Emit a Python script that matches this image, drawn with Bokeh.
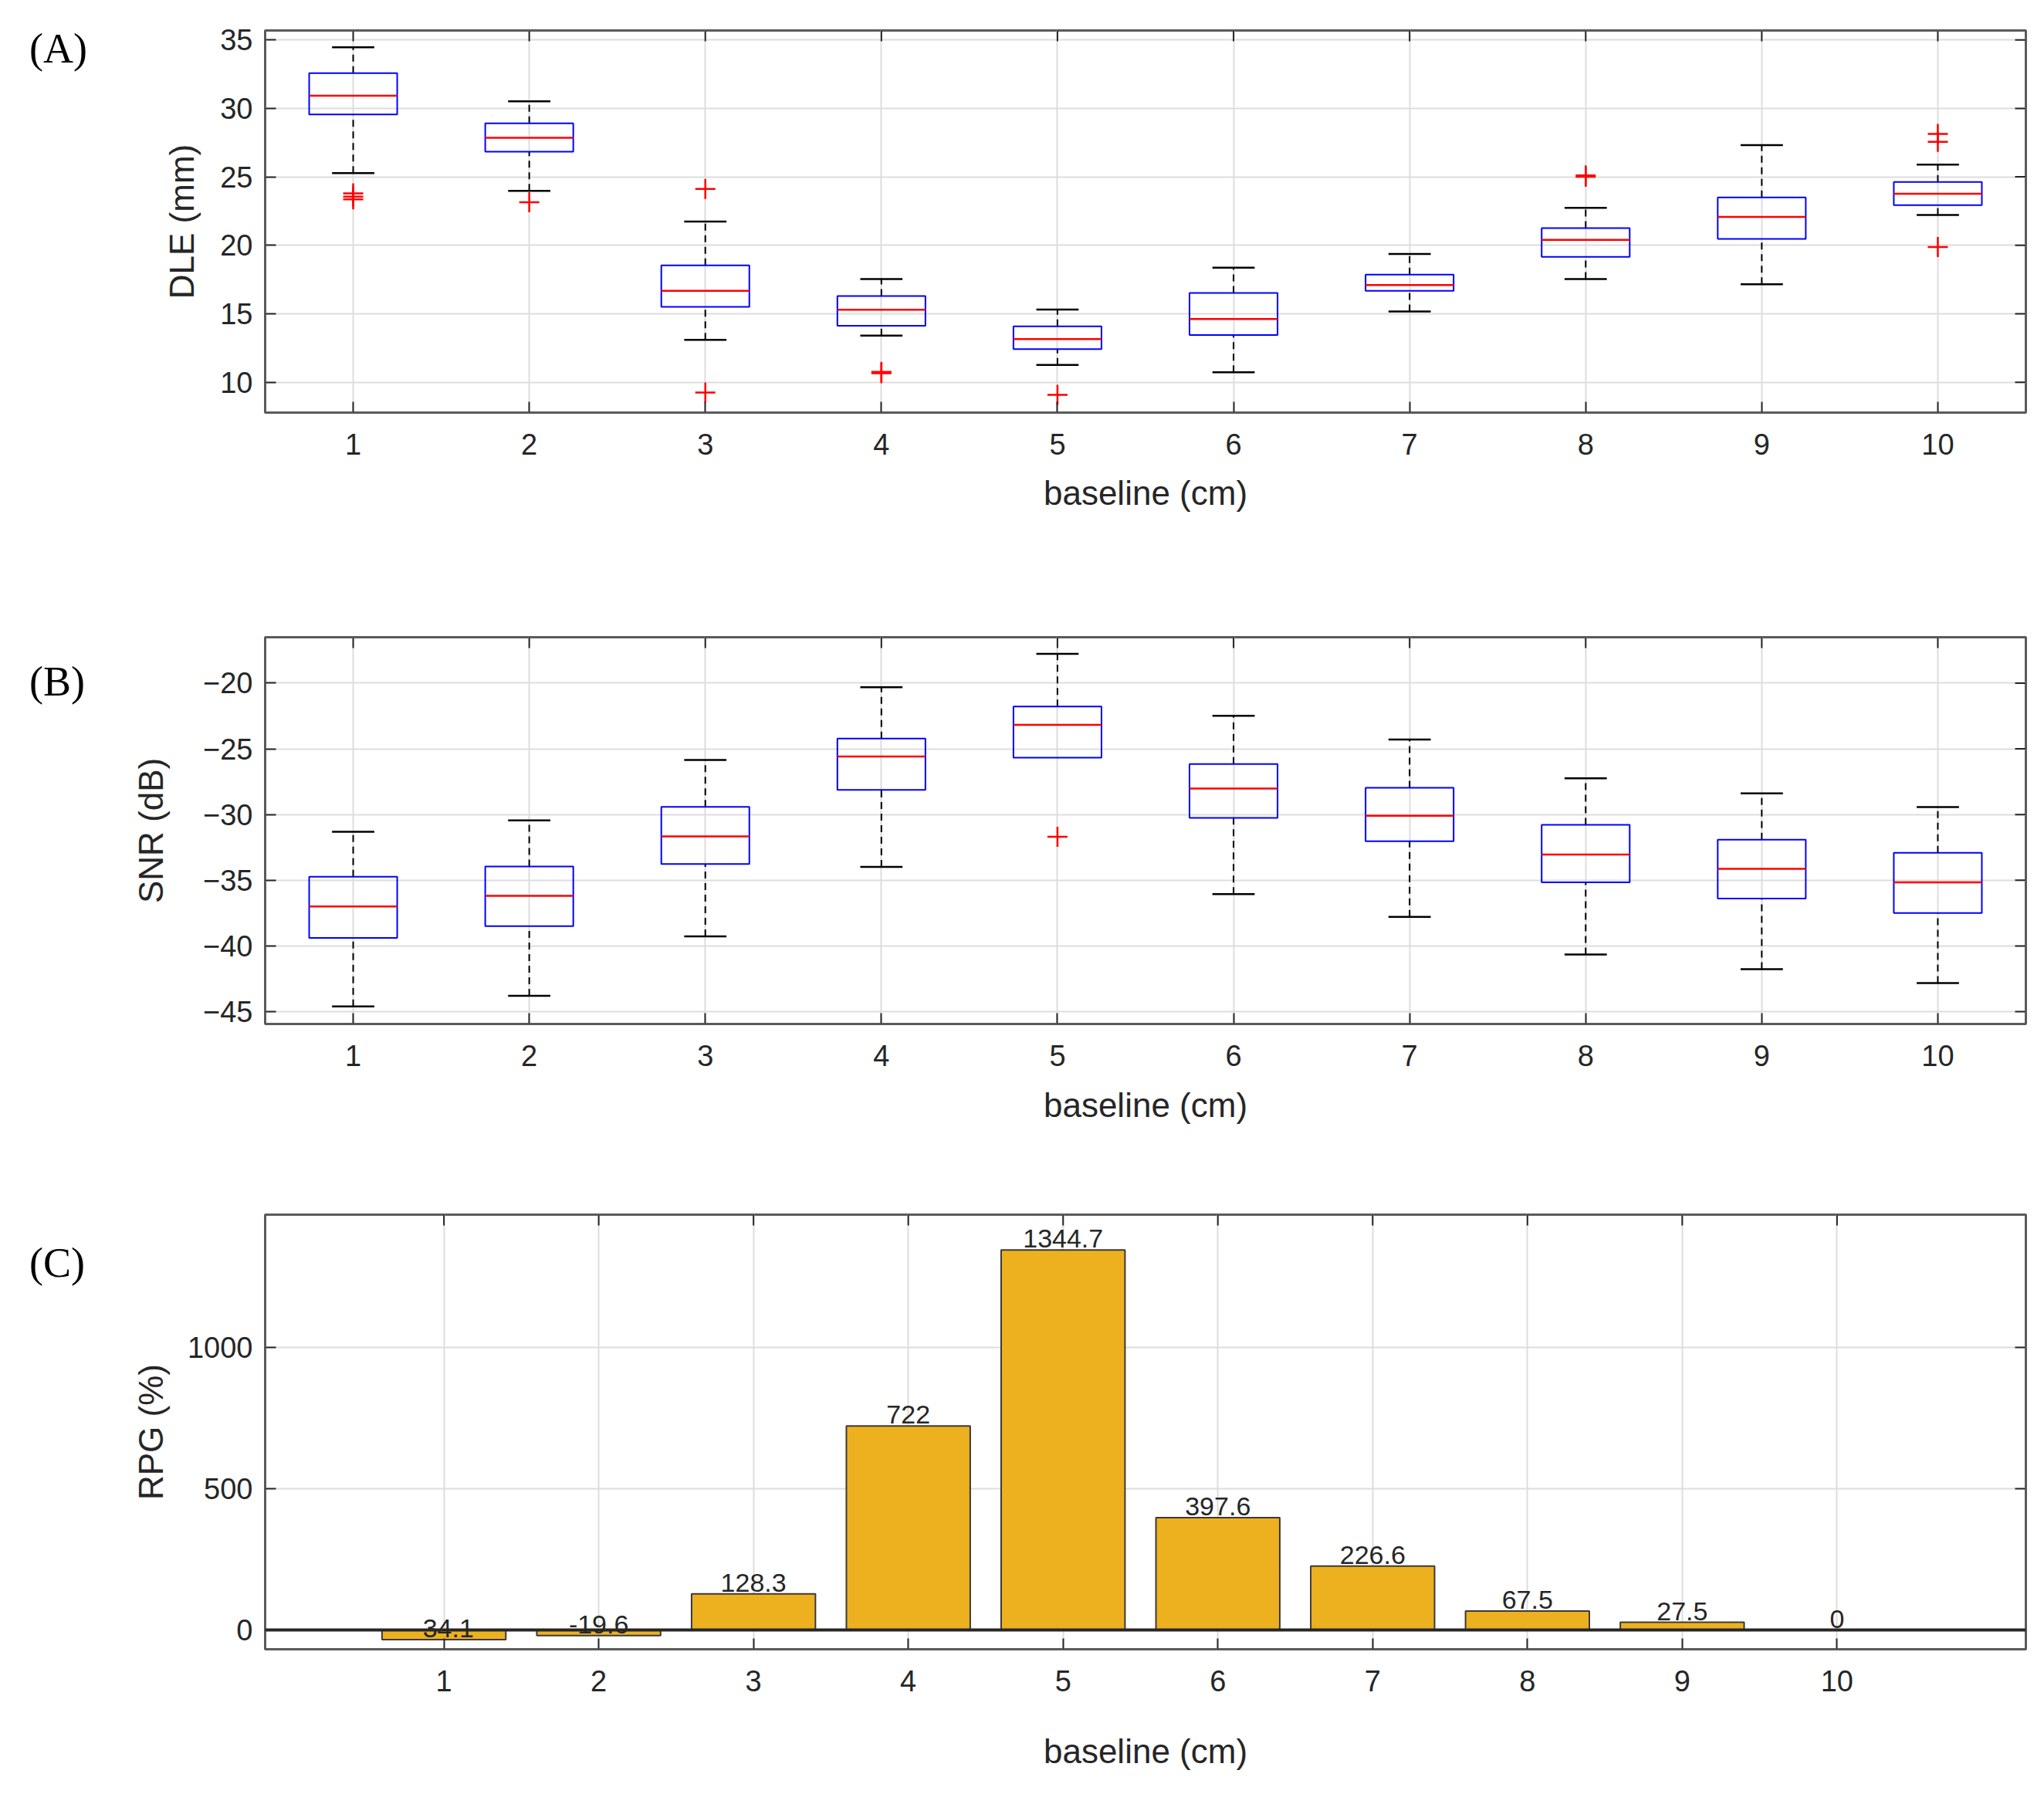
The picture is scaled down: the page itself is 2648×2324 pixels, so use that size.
from bokeh.plotting import figure
from bokeh.layouts import column, row
from bokeh.models import Range1d, FixedTicker, ColumnDataSource, Div
from bokeh.embed import file_html
from bokeh.resources import INLINE
from bokeh.core.properties import value

# ---------------- data ----------------
baseline = [1, 2, 3, 4, 5, 6, 7, 8, 9, 10]

# (A) DLE (mm) box statistics
dle_lower = [25.28, 23.97, 13.10, 13.40, 11.26, 10.73, 15.16, 17.53, 17.15, 22.21]
dle_q1 = [29.56, 26.84, 15.51, 14.13, 12.42, 13.45, 16.67, 19.16, 20.47, 22.94]
dle_median = [30.92, 27.85, 16.67, 15.29, 13.15, 14.61, 17.10, 20.40, 22.08, 23.77]
dle_q3 = [32.58, 28.91, 18.53, 16.29, 14.08, 16.52, 17.86, 21.25, 23.49, 24.63]
dle_upper = [34.47, 30.52, 21.73, 17.53, 15.31, 18.36, 19.37, 22.74, 27.32, 25.89]
dle_outlier_x = [1, 1, 1, 2, 3, 3, 4, 4, 5, 8, 8, 10, 10, 10]
dle_outlier_y = [23.80, 23.55, 23.35, 23.14, 24.12, 9.24, 10.75, 10.65, 9.07, 25.10, 25.00, 28.13, 27.55, 19.87]

# (B) SNR (dB) box statistics
snr_lower = [-44.61, -43.79, -39.28, -33.98, -25.67, -36.05, -37.79, -40.65, -41.77, -42.82]
snr_q1 = [-39.39, -38.49, -33.77, -28.13, -25.67, -30.26, -32.04, -35.16, -36.40, -37.50]
snr_median = [-37.00, -36.19, -31.67, -25.59, -23.17, -28.03, -30.10, -33.04, -34.14, -35.16]
snr_q3 = [-34.74, -33.96, -29.42, -24.22, -21.78, -26.16, -27.97, -30.78, -31.91, -32.91]
snr_upper = [-31.31, -30.44, -25.85, -20.31, -17.77, -22.49, -24.30, -27.24, -28.39, -29.44]
snr_outlier_x = [5]
snr_outlier_y = [-31.70]

# (C) RPG (%)
rpg = [-34.1, -19.6, 128.3, 722, 1344.7, 397.6, 226.6, 67.5, 27.5, 0]

dle_ticks = [10, 15, 20, 25, 30, 35]
snr_ticks = [-45, -40, -35, -30, -25, -20]
rpg_ticks = [0, 500, 1000]
axis_xlabel = "baseline (cm)"
panel_names = ["(A)", "(B)", "(C)"]

# ---------------- styling ----------------
FONT = "Liberation Sans"
TXT = "#262626"
W = 2648
DIV_W = 130
FIG_W = W - DIV_W
BORDER_L = 343 - DIV_W
BORDER_R = 24
FRAME_W = FIG_W - BORDER_L - BORDER_R
TICK = 14


def base_fig(height, xr, yr, top, bottom):
    p = figure(width=FIG_W, height=height, x_range=Range1d(*xr), y_range=Range1d(*yr),
               output_backend="svg", toolbar_location=None,
               min_border_left=BORDER_L, min_border_right=BORDER_R,
               min_border_top=top, min_border_bottom=bottom, margin=0)
    p.background_fill_color = "white"
    p.border_fill_color = "white"
    p.outline_line_color = "#5a5a5a"
    p.outline_line_width = 3
    p.grid.grid_line_color = "#dddddd"
    p.grid.grid_line_width = 2
    return p


def style_axes(p, xticks, yticks, ylabel, ylab_standoff, xlab_standoff, yoverrides=None):
    p.xaxis.ticker = FixedTicker(ticks=xticks)
    p.yaxis.ticker = FixedTicker(ticks=yticks)
    p.xgrid.ticker = FixedTicker(ticks=xticks)
    p.ygrid.ticker = FixedTicker(ticks=yticks)
    if yoverrides:
        p.yaxis.major_label_overrides = yoverrides
    for ax in (p.xaxis[0], p.yaxis[0]):
        ax.axis_line_color = None
        ax.major_tick_in = TICK
        ax.major_tick_out = 0
        ax.major_tick_line_color = TXT
        ax.major_tick_line_width = 2
        ax.minor_tick_line_color = None
        ax.major_label_text_font = FONT
        ax.major_label_text_font_size = "38px"
        ax.major_label_text_color = TXT
        ax.axis_label_text_font = FONT
        ax.axis_label_text_font_size = "44px"
        ax.axis_label_text_font_style = "normal"
        ax.axis_label_text_color = TXT
    p.xaxis[0].axis_label = axis_xlabel
    p.xaxis[0].major_label_standoff = 27
    p.xaxis[0].axis_label_standoff = xlab_standoff
    p.yaxis[0].axis_label = ylabel
    p.yaxis[0].major_label_standoff = 16
    p.yaxis[0].axis_label_standoff = ylab_standoff


def mirror_ticks(p, xr, yr, xticks, yticks, frame_h):
    # ticks on the top and right edges of the box (MATLAB "box on")
    dy = TICK * (yr[1] - yr[0]) / frame_h
    dx = TICK * (xr[1] - xr[0]) / FRAME_W
    p.segment(x0=xticks, y0=[yr[1]] * len(xticks), x1=xticks, y1=[yr[1] - dy] * len(xticks),
              line_color=TXT, line_width=2)
    p.segment(x0=[xr[1]] * len(yticks), y0=yticks, x1=[xr[1] - dx] * len(yticks), y1=yticks,
              line_color=TXT, line_width=2)


def draw_boxes(p, lower, q1, med, q3, upper, ox, oy):
    src = ColumnDataSource(dict(x=baseline, lower=lower, q1=q1, med=med, q3=q3, upper=upper))
    p.segment(x0="x", y0="q3", x1="x", y1="upper", source=src, line_color="black",
              line_width=2, line_dash="9 6")
    p.segment(x0="x", y0="lower", x1="x", y1="q1", source=src, line_color="black",
              line_width=2, line_dash="9 6")
    cap = 0.12
    p.segment(x0=[x - cap for x in baseline], y0=upper, x1=[x + cap for x in baseline], y1=upper,
              line_color="black", line_width=2.5)
    lx = [x for x, lo, q in zip(baseline, lower, q1) if lo < q]
    ly = [lo for lo, q in zip(lower, q1) if lo < q]
    p.segment(x0=[x - cap for x in lx], y0=ly, x1=[x + cap for x in lx], y1=ly,
              line_color="black", line_width=2.5)
    p.vbar(x="x", bottom="q1", top="q3", width=0.5, source=src, fill_color=None,
           line_color="#0000ff", line_width=2)
    p.segment(x0=[x - 0.25 for x in baseline], y0=med, x1=[x + 0.25 for x in baseline], y1=med,
              line_color="#ff0000", line_width=2.5)
    p.scatter(ox, oy, marker="cross", size=26, line_color="#ff0000", line_width=2.5)


def panel_div(name, height, top):
    html = ("<div style='margin-top:%dpx;margin-left:38px;font-family:\"Liberation Serif\",serif;"
            "font-size:54px;line-height:1;color:black'>%s</div>" % (top, name))
    return Div(text=html, width=DIV_W, height=height, margin=0)


# ---------------- panel A ----------------
xr_ab = (0.5, 10.5)
yr_a = (7.78, 35.69)
pa = base_fig(760, xr_ab, yr_a, 39, 226)
style_axes(pa, baseline, dle_ticks, "DLE (mm)", 22, 22)
mirror_ticks(pa, xr_ab, yr_a, baseline, dle_ticks, 495)
draw_boxes(pa, dle_lower, dle_q1, dle_median, dle_q3, dle_upper, dle_outlier_x, dle_outlier_y)

# ---------------- panel B ----------------
yr_b = (-45.94, -16.51)
pb = base_fig(720, xr_ab, yr_b, 65, 154)
snr_over = {t: "\u2212" + str(abs(t)) for t in snr_ticks}
style_axes(pb, baseline, snr_ticks, "SNR (dB)", 40, 23, snr_over)
mirror_ticks(pb, xr_ab, yr_b, baseline, snr_ticks, 501)
draw_boxes(pb, snr_lower, snr_q1, snr_median, snr_q3, snr_upper, snr_outlier_x, snr_outlier_y)

# ---------------- panel C ----------------
xr_c = (-0.155, 11.22)
yr_c = (-68, 1470)
pc = base_fig(844, xr_c, yr_c, 93, 188)
style_axes(pc, baseline, rpg_ticks, "RPG (%)", 20, 50)
mirror_ticks(pc, xr_c, yr_c, baseline, rpg_ticks, 563)
csrc = ColumnDataSource(dict(x=baseline, top=rpg, lab=[f"{v:g}" for v in rpg]))
pc.vbar(x="x", top="top", bottom=0, width=0.8, source=csrc, fill_color="#EDB120",
        line_color="#3a3a3a", line_width=2)
pc.hspan(y=[0], line_color="#262626", line_width=4)
pc.text(x="x", y="top", text="lab", source=csrc, text_align="center", text_baseline="bottom",
        text_font=value(FONT), text_font_size="34px", text_color=TXT, y_offset=-3)

layout = column(
    row(panel_div(panel_names[0], 760, 36), pa, spacing=0, margin=0),
    row(panel_div(panel_names[1], 720, 96), pb, spacing=0, margin=0),
    row(panel_div(panel_names[2], 844, 129), pc, spacing=0, margin=0),
    spacing=0, margin=0,
)
open("out.html", "w").write(file_html(layout, INLINE))
